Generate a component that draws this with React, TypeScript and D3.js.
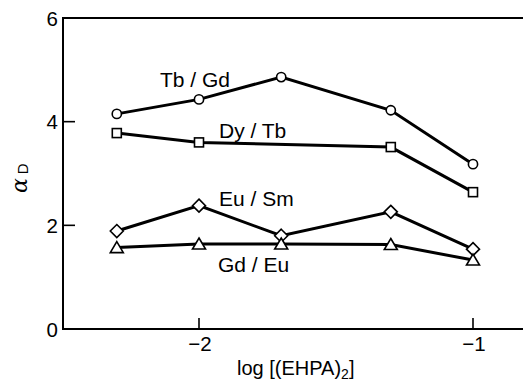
import React from "react";
import * as d3 from "d3";

// log [(EHPA)2] values
const xTb = [-2.3, -2.0, -1.7, -1.3, -1.0];
const tbGd = [4.15, 4.43, 4.86, 4.22, 3.18];

const xDy = [-2.3, -2.0, -1.3, -1.0];
const dyTb = [3.78, 3.6, 3.51, 2.64];

const xEu = [-2.3, -2.0, -1.7, -1.3, -1.0];
const euSm = [1.89, 2.38, 1.8, 2.26, 1.54];

const xGd = [-2.3, -2.0, -1.7, -1.3, -1.0];
const gdEu = [1.57, 1.64, 1.64, 1.63, 1.33];

const xTicks = [-2, -1];
const yTicks = [0, 2, 4, 6];

const W = 523;
const H = 389;

const font = "'Liberation Sans', Arial, Helvetica, sans-serif";

export default function App() {
  const x = d3.scaleLinear().domain([-2.5, -0.8]).range([62, 62 + 274 * 1.7]);
  const y = d3.scaleLinear().domain([0, 6]).range([329, 18]);

  const line = d3
    .line<[number, number]>()
    .x((d) => x(d[0]))
    .y((d) => y(d[1]));

  const pts = (xs: number[], ys: number[]) =>
    xs.map((v, i) => [v, ys[i]] as [number, number]);

  const series = [
    { data: pts(xTb, tbGd), shape: "circle" },
    { data: pts(xDy, dyTb), shape: "square" },
    { data: pts(xEu, euSm), shape: "diamond" },
    { data: pts(xGd, gdEu), shape: "triangle" },
  ];

  const marker = (shape: string, cx: number, cy: number, k: number) => {
    const st = { fill: "#fff", stroke: "#000", strokeWidth: 1.6 };
    if (shape === "circle") return <circle key={k} cx={cx} cy={cy} r={4.6} {...st} />;
    if (shape === "square")
      return <rect key={k} x={cx - 4.5} y={cy - 4.5} width={9} height={9} {...st} />;
    if (shape === "diamond")
      return (
        <path key={k} d={`M${cx},${cy - 6.5}L${cx + 6.5},${cy}L${cx},${cy + 6.5}L${cx - 6.5},${cy}Z`} {...st} />
      );
    return (
      <path key={k} d={`M${cx},${cy - 6}L${cx + 6.5},${cy + 5}L${cx - 6.5},${cy + 5}Z`} {...st} />
    );
  };

  const x0 = x(-2.5) + 1;
  const y0 = y(0);
  const yTop = y(6);

  return (
    <svg width={W} height={H} style={{ position: "absolute", left: 0, top: 0 }} fontFamily={font}>
      <rect x={0} y={0} width={W} height={H} fill="#fff" />
      {/* frame */}
      <path d={`M${W + 20},${yTop}H${x0}V${y0}H${W + 20}`} fill="none" stroke="#000" strokeWidth={2} />

      {/* y ticks */}
      {yTicks.map((t) => (
        <g key={t}>
          {t > 0 && t < 6 && <line x1={x0} x2={x0 + 12} y1={y(t)} y2={y(t)} stroke="#000" strokeWidth={1.6} />}
          <text x={58} y={y(t) + 7.5} textAnchor="end" fontSize={20.5}>
            {t}
          </text>
        </g>
      ))}

      {/* x ticks */}
      {xTicks.map((t) => (
        <g key={t}>
          <line x1={x(t)} x2={x(t)} y1={y0} y2={y0 - 11} stroke="#000" strokeWidth={1.6} />
          <text x={x(t) + 1} y={351} textAnchor="middle" fontSize={20.5}>
            {"\u2212" + Math.abs(t)}
          </text>
        </g>
      ))}

      {/* series */}
      {series.map((s, i) => (
        <g key={i}>
          <path d={line(s.data) || ""} fill="none" stroke="#000" strokeWidth={3} />
          {s.data.map((d, j) => marker(s.shape, x(d[0]), y(d[1]), j))}
        </g>
      ))}

      {/* series labels */}
      <text x={160} y={87} fontSize={21}>Tb / Gd</text>
      <text x={219} y={138} fontSize={21}>Dy / Tb</text>
      <text x={219} y={206} fontSize={21}>Eu / Sm</text>
      <text x={218} y={272} fontSize={21}>Gd / Eu</text>

      {/* axis titles */}
      <text x={237} y={375} fontSize={20}>
        log [(EHPA)
        <tspan fontSize={14} dy={4}>2</tspan>
        <tspan dy={-4}>]</tspan>
      </text>
      <text transform="translate(27,193) rotate(-90)" fontSize={22}>
        <tspan fontStyle="italic" fontFamily="'DejaVu Serif', serif">α</tspan>
        <tspan fontSize={15} dx={4} dy={1}>D</tspan>
      </text>
    </svg>
  );
}
